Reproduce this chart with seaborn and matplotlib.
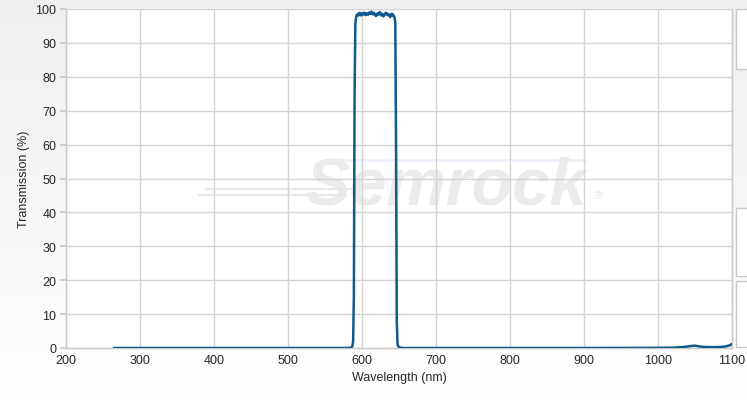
import numpy as np
import pandas as pd
import matplotlib
matplotlib.use("Agg")
import matplotlib.pyplot as plt
from matplotlib.patches import Rectangle
from matplotlib.colors import LinearSegmentedColormap
import seaborn as sns

wavelength = [265, 300, 400, 500, 560, 580, 585, 587, 588, 589, 590, 591,
              592, 593, 594, 595, 596, 597, 598, 599, 600, 601, 602, 603, 604,
              605, 606, 607, 608, 609, 610, 611, 612, 613, 614, 615, 616, 617,
              618, 619, 620, 621, 622, 623, 624, 625, 626, 627, 628, 629, 630,
              631, 632, 633, 634, 635, 636, 637, 638, 639, 640, 641, 642, 643,
              644, 645, 646, 647, 648, 650, 655, 700, 800, 900, 1000, 1020,
              1035, 1045, 1050, 1055, 1062, 1075, 1085, 1092, 1097, 1100]
transmission = [0.0, 0.0, 0.0, 0.0, 0.0, 0.0, 0.1, 0.5, 2.0, 15.0, 75.0, 95.5,
                97.6, 98.3, 98.0, 98.6, 98.2, 98.9, 98.4, 98.1, 98.7, 98.3, 98.5, 98.9, 98.4,
                98.2, 98.8, 98.6, 98.3, 98.7, 99.0, 98.5, 98.8, 99.2, 98.6, 98.4, 98.9, 98.6,
                98.2, 97.9, 98.4, 98.7, 98.3, 98.8, 99.1, 98.5, 98.1, 98.6, 98.3, 97.8, 98.2,
                98.6, 98.9, 98.4, 98.7, 98.2, 98.5, 98.0, 97.6, 98.3, 98.6, 98.1, 98.4, 97.9,
                97.5, 96.0, 60.0, 8.0, 1.0, 0.2, 0.0, 0.0, 0.0, 0.0, 0.05, 0.1,
                0.3, 0.6, 0.7, 0.5, 0.3, 0.25, 0.3, 0.5, 0.8, 1.2]

x_ticks = [200, 300, 400, 500, 600, 700, 800, 900, 1000, 1100]
y_ticks = [0, 10, 20, 30, 40, 50, 60, 70, 80, 90, 100]

df = pd.DataFrame({"Wavelength": wavelength, "Transmission": transmission})

sns.set_theme(style="white")
plt.rcParams["font.family"] = ["Liberation Sans", "DejaVu Sans"]

fig = plt.figure(figsize=(7.47, 4.02), dpi=100)

# background gradient
bg = fig.add_axes([0, 0, 1, 1], zorder=-10)
grad = np.linspace(0, 1, 256).reshape(-1, 1)
cmap = LinearSegmentedColormap.from_list("g", ["#efefef", "#ffffff"])
bg.imshow(grad, aspect="auto", cmap=cmap, extent=[0, 1, 0, 1], origin="upper")
bg.set_axis_off()

# right-side cut-off panels
for (y0, y1) in [(10, 70), (209, 277), (282, 348)]:
    fig.patches.append(Rectangle((736 / 747, 1 - y1 / 402), 0.05, (y1 - y0) / 402,
                                 transform=fig.transFigure, facecolor="white",
                                 edgecolor="#c8c8c8", linewidth=1.0, zorder=1))

ax = fig.add_axes([66 / 747, 1 - 349 / 402, (732 - 66) / 747, (349 - 10) / 402])
ax.set_facecolor("white")

# watermark
ax.text(0.57, 0.475, "Semrock", transform=ax.transAxes, fontsize=48,
        fontweight="bold", fontstyle="italic", color="#ebebeb",
        ha="center", va="center", zorder=0.5)
ax.text(0.80, 0.45, "®", transform=ax.transAxes, fontsize=8,
        color="#e6e6e6", ha="center", va="center", zorder=0.5)
ax.plot([0.2, 0.42], [0.452, 0.452], transform=ax.transAxes, color="#e8e8e8", lw=1.5, zorder=0.5)
ax.plot([0.21, 0.43], [0.468, 0.468], transform=ax.transAxes, color="#e8e8e8", lw=1.5, zorder=0.5)
ax.plot([0.39, 0.78], [0.555, 0.555], transform=ax.transAxes, color="#eef0fa", lw=2, zorder=0.4)

sns.lineplot(data=df, x="Wavelength", y="Transmission", ax=ax,
             color="#0f5a8c", linewidth=1.8, zorder=3)

ax.set_xlim(200, 1100)
ax.set_ylim(0, 100)
ax.set_xticks(x_ticks)
ax.set_yticks(y_ticks)
ax.grid(True, color="#d3d3d3", linewidth=1.0)
ax.set_axisbelow(True)
for s in ["top", "right", "left", "bottom"]:
    ax.spines[s].set_visible(True)
    ax.spines[s].set_color("#c8c8c8")
    ax.spines[s].set_linewidth(1.0)
ax.spines["top"].set_visible(False)
ax.tick_params(axis="y", length=4, color="#c8c8c8", labelsize=9, pad=3, left=True)
ax.tick_params(axis="x", length=0, labelsize=9, pad=4)
ax.set_xlabel("Wavelength (nm)", fontsize=9, labelpad=4)
ax.set_ylabel("Transmission (%)", fontsize=9, labelpad=4)

fig.savefig("out.png", dpi=100, facecolor=fig.get_facecolor())
